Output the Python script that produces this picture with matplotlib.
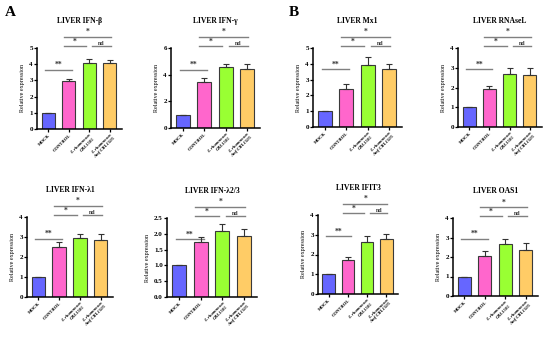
import matplotlib
matplotlib.use('Agg')
import matplotlib.pyplot as plt

plt.rcParams['font.family'] = ['Liberation Serif', 'DejaVu Serif']
plt.rcParams['font.weight'] = 'bold'

# datos
grupos = ['MOCK', 'CONTROL', 'L. rhamnosus\nCRL1505', 'L. rhamnosus\nAmf CRL1505']
colores = ['#6666FF', '#FF66CC', '#99FF33', '#FFCC66']

titulos = ['LIVER IFN-β', 'LIVER IFN-γ', 'LIVER Mx1', 'LIVER RNAseL',
           'LIVER IFN-λ1', 'LIVER IFN-λ2/3', 'LIVER IFIT3', 'LIVER OAS1']
ifn_b = [1.0, 2.95, 4.1, 4.05]
ifn_b_err = [0.0, 0.15, 0.2, 0.2]
ifn_g = [1.0, 3.45, 4.6, 4.42]
ifn_g_err = [0.0, 0.3, 0.22, 0.38]
mx1 = [1.0, 2.4, 3.9, 3.7]
mx1_err = [0.0, 0.35, 0.5, 0.3]
rnasel = [1.0, 1.9, 2.68, 2.65]
rnasel_err = [0.0, 0.2, 0.3, 0.32]
ifn_l1 = [1.0, 2.5, 2.95, 2.85]
ifn_l1_err = [0.0, 0.25, 0.22, 0.32]
ifn_l23 = [1.0, 1.73, 2.1, 1.93]
ifn_l23_err = [0.0, 0.16, 0.2, 0.22]
ifit3 = [1.0, 1.7, 2.63, 2.78]
ifit3_err = [0.0, 0.15, 0.32, 0.24]
oas1 = [1.0, 2.07, 2.68, 2.37]
oas1_err = [0.0, 0.25, 0.25, 0.35]

valores = [ifn_b, ifn_g, mx1, rnasel, ifn_l1, ifn_l23, ifit3, oas1]
errores = [ifn_b_err, ifn_g_err, mx1_err, rnasel_err, ifn_l1_err, ifn_l23_err, ifit3_err, oas1_err]
ymax = [5, 6, 5, 4, 4, 2.5, 4, 4]
yticks = [[0, 1, 2, 3, 4, 5], [0, 2, 4, 6], [0, 1, 2, 3, 4, 5], [0, 1, 2, 3, 4],
          [0, 1, 2, 3, 4], [0.0, 0.5, 1.0, 1.5, 2.0, 2.5], [0, 1, 2, 3, 4], [0, 1, 2, 3, 4]]

# posicion de los ejes en pixeles (izq, der, arriba, abajo)
cajas = [(37, 122, 48, 129), (171, 260, 48, 128), (313, 402, 48, 127), (458, 542, 48, 127),
         (27, 113, 217, 297), (167, 257, 218, 297), (318, 398, 215, 294), (453, 538, 218, 296)]

# comparaciones: (desde, hasta, altura relativa, texto, extremo izq, extremo der)
comparaciones = [(0, 1, 0.73, '**', -0.15, 0.15),
                 (1, 2, 1.02, '*', -0.25, -0.15),
                 (2, 3, 1.02, 'nd', 0.15, 0.05),
                 (1, 3, 1.14, '*', -0.25, 0.05)]

W, H = 550, 340
fig = plt.figure(figsize=(5.5, 3.4), dpi=100)

for i in range(8):
    l, r, t, b = cajas[i]
    ax = fig.add_axes([l / W, 1 - b / H, (r - l) / W, (b - t) / H])
    x = list(range(4))
    ax.bar(x, valores[i], width=0.65, color=colores, edgecolor='#3a3a3a', linewidth=0.8, zorder=2)
    ax.errorbar(x, valores[i], yerr=[[0] * 4, errores[i]], fmt='none', ecolor='#333333',
                elinewidth=0.8, capsize=2.5, capthick=0.8, zorder=3)
    ax.set_xlim(-0.55, 3.6)
    ax.set_ylim(0, ymax[i])
    ax.set_yticks(yticks[i])
    if ymax[i] == 2.5:
        ax.set_yticklabels(['%.1f' % v for v in yticks[i]])
    ax.set_xticks(x)
    etiquetas = ax.set_xticklabels(grupos, rotation=45, ha='right', rotation_mode='anchor', fontsize=3.3)
    for e in etiquetas[2:]:
        e.set_style('italic')
    ax.tick_params(axis='y', labelsize=5, length=2, width=0.9, pad=1)
    ax.tick_params(axis='x', length=2, width=0.9, pad=1)
    for s in ['top', 'right']:
        ax.spines[s].set_visible(False)
    for s in ['left', 'bottom']:
        ax.spines[s].set_linewidth(1.1)
    ax.set_ylabel('Relative expression', fontsize=4.3, labelpad=3)
    ax.set_title(titulos[i], fontsize=5.5, fontweight='bold', pad=18)

    # lineas de significancia
    ym = ymax[i]
    for a, c, f, txt, da, dc in comparaciones:
        y = f * ym
        ax.plot([a + da, c + dc], [y, y], color='#808080', lw=1.0, clip_on=False)
        ax.text((a + da + c + dc) / 2, y + 0.01 * ym, txt, ha='center', va='bottom',
                fontsize=5.5 if txt != 'nd' else 4.2, color='#333333')

fig.text(5 / W, 1 - 13 / H, 'A', fontsize=11, fontweight='bold', va='center')
fig.text(289 / W, 1 - 13 / H, 'B', fontsize=11, fontweight='bold', va='center')

fig.savefig('out.png', dpi=100)
